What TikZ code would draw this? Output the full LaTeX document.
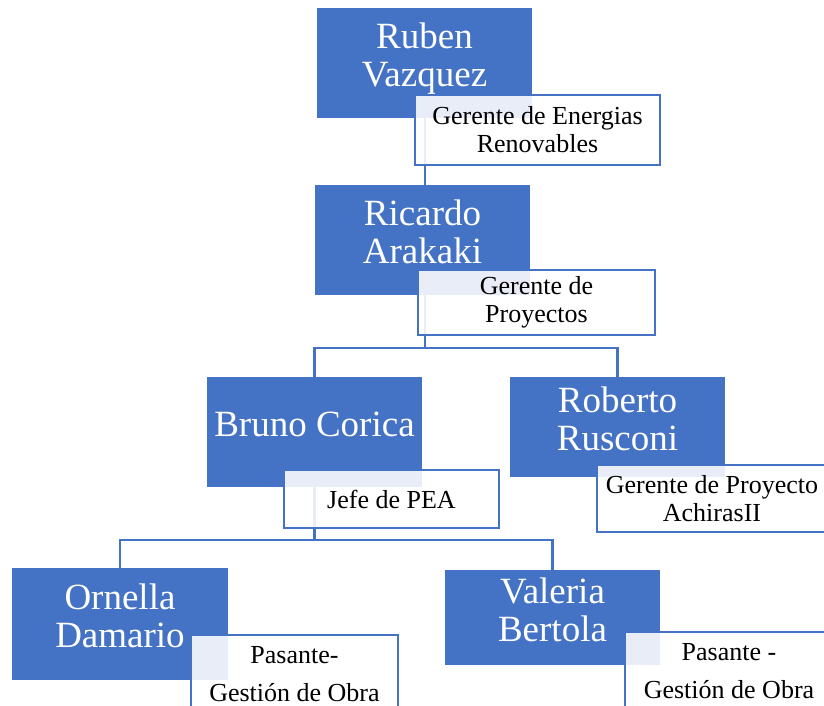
\documentclass[tikz,border=0pt]{standalone}
\usepackage{fontspec}
\setmainfont{Liberation Serif}
\usetikzlibrary{positioning}
\definecolor{orgblue}{RGB}{68,114,196}

\begin{document}
\begin{tikzpicture}[
    x=1pt, y=-1pt,
    person/.style={fill=orgblue, text=white, minimum width=215pt, minimum height=110pt, inner sep=0pt, text depth=16pt, align=center, font=\fontsize{37}{38}\selectfont},
    role/.style={draw=orgblue, line width=1.5pt, fill=white, fill opacity=0.88, text opacity=1, inner sep=0pt, align=center, font=\fontsize{26}{28}\selectfont},
    link/.style={draw=orgblue, line width=2.5pt}
]
\useasboundingbox (0,0) rectangle (824,705);
\clip (0,0) rectangle (824,705);

% people
\node[person] (ruben) at (424.5,63) {Ruben\\Vazquez};
\node[person] (ricardo) at (422.5,240) {Ricardo\\Arakaki};
\node[person] (bruno) at (314.5,432) {Bruno Corica};
\node[person, minimum height=100pt] (roberto) at (617.5,427) {Roberto\\Rusconi};
\node[person, minimum width=216pt, minimum height=112pt] (ornella) at (120,624) {Ornella\\Damario};
\node[person, minimum height=95pt] (valeria) at (552.5,617.5) {Valeria\\Bertola};

% links
\draw[link] ([xshift=108pt]ruben.south west) -- ([xshift=110pt]ricardo.north west);
\draw[link] ([xshift=110pt]ricardo.south west) -- ++(0,53) coordinate (split1) -| (bruno.north);
\draw[link] (split1) -| (roberto.north);
\draw[link] (bruno.south) -- ++(0,53) coordinate (split2) -| (ornella.north);
\draw[link] (split2) -| (valeria.north);

% roles
\node[role, minimum width=245pt, minimum height=70pt] (ruben-role) at (537.5,130) {Gerente de Energias\\Renovables};
\node[role, minimum width=237pt, minimum height=65pt] (ricardo-role) at (536.5,302.5) {Gerente de\\Proyectos};
\node[role, minimum width=215pt, minimum height=58pt] (bruno-role) at (391.5,499) {Jefe de PEA};
\node[role, minimum width=230pt, minimum height=67pt] (roberto-role) at (712,498.5) {Gerente de Proyecto\\AchirasII};
\node[role, minimum width=207pt, minimum height=78pt, font=\fontsize{26}{38}\selectfont] (ornella-role) at (294.5,674) {Pasante-\\Gestión de Obra};
\node[role, minimum width=208pt, minimum height=78pt, font=\fontsize{26}{38}\selectfont] (valeria-role) at (729,671) {Pasante -\\Gestión de Obra};
\end{tikzpicture}
\end{document}
